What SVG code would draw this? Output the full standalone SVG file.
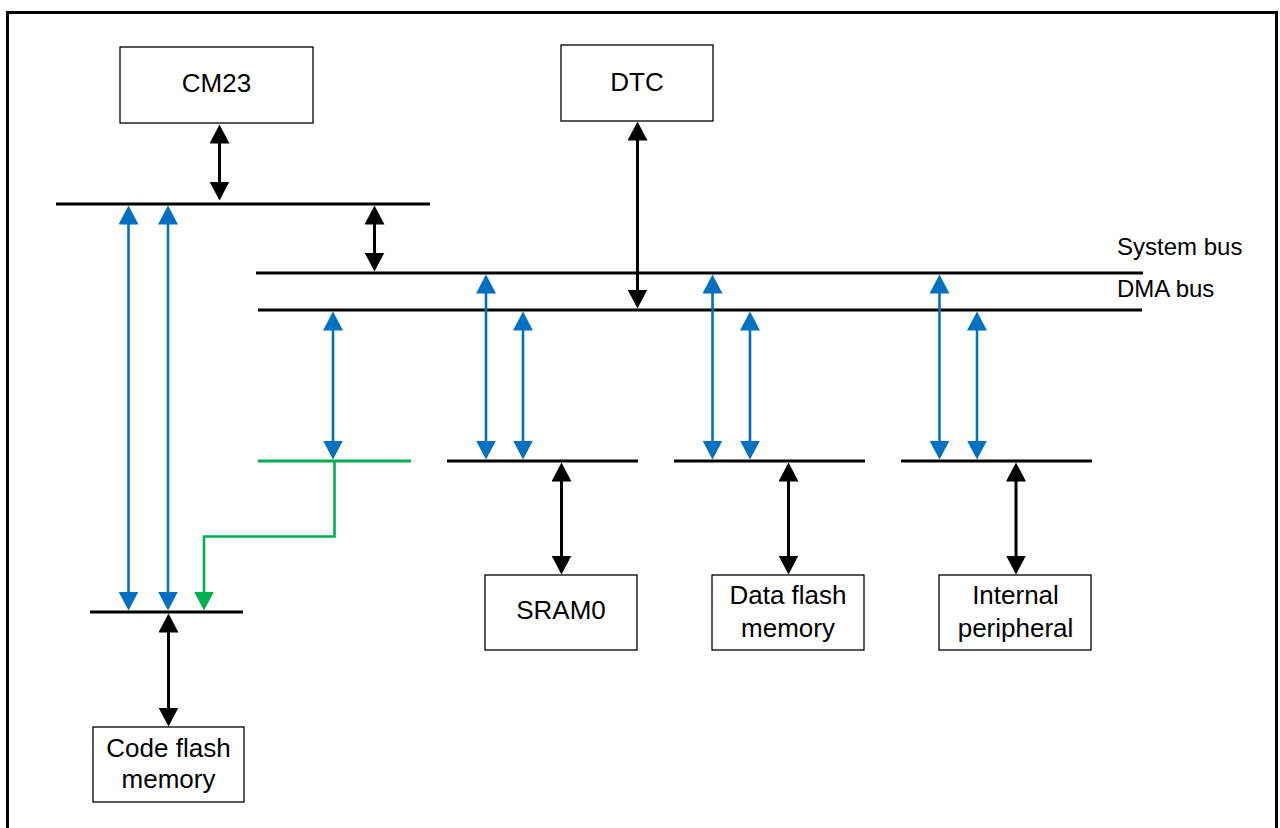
<svg xmlns="http://www.w3.org/2000/svg" width="1280" height="828" viewBox="0 0 1280 828">
<style>
.box{fill:#fff;stroke:#000;stroke-width:1.3}
.lbl{font-family:"Liberation Sans",Arial,sans-serif;font-size:26px;fill:#000;text-anchor:middle}
.bus{stroke:#000;stroke-width:3;fill:none}
.busg{stroke:#00B050;stroke-width:3;fill:none}
.blk{stroke:#000;stroke-width:3;fill:none;marker-start:url(#ak);marker-end:url(#ak)}
.blu{stroke:#0070C0;stroke-width:2.6;fill:none;marker-start:url(#ab);marker-end:url(#ab)}
.grn{stroke:#00B050;stroke-width:2.6;fill:none;marker-end:url(#ag)}
.bl{font-family:"Liberation Sans",Arial,sans-serif;font-size:24px;fill:#000}
</style>
<defs>
<marker id="ak" markerUnits="userSpaceOnUse" markerWidth="19" markerHeight="20" refX="0.5" refY="10" orient="auto-start-reverse" viewBox="0 0 19 20"><path d="M0,0 L19,10 L0,20 z" fill="#000"/></marker>
<marker id="ab" markerUnits="userSpaceOnUse" markerWidth="19" markerHeight="20" refX="0.5" refY="10" orient="auto-start-reverse" viewBox="0 0 19 20"><path d="M0,0 L19,10 L0,20 z" fill="#0070C0"/></marker>
<marker id="ag" markerUnits="userSpaceOnUse" markerWidth="19" markerHeight="20" refX="0.5" refY="10" orient="auto-start-reverse" viewBox="0 0 19 20"><path d="M0,0 L19,10 L0,20 z" fill="#00B050"/></marker>
</defs>
<rect x="0" y="0" width="1280" height="828" fill="#fff"/>
<rect x="7.5" y="12.5" width="1269" height="840" fill="none" stroke="#000" stroke-width="3"/>

<g id="buses">
<line class="bus" x1="56" y1="204" x2="430" y2="204"/>
<line class="bus" x1="256" y1="273" x2="1143" y2="273"/>
<line class="bus" x1="258" y1="310" x2="1142" y2="310"/>
<line class="busg" x1="258" y1="461" x2="411" y2="461"/>
<line class="bus" x1="447" y1="461" x2="638" y2="461"/>
<line class="bus" x1="674" y1="461" x2="865" y2="461"/>
<line class="bus" x1="901" y1="461" x2="1092" y2="461"/>
<line class="bus" x1="90" y1="612" x2="243" y2="612"/>
<text class="bl" x="1117" y="255">System bus</text>
<text class="bl" x="1117" y="297">DMA bus</text>
</g>

<g id="cm23"><rect class="box" x="120" y="47" width="193" height="76"/><text class="lbl" x="216.5" y="92">CM23</text></g>
<g id="dtc"><rect class="box" x="561" y="45" width="152" height="76"/><text class="lbl" x="637" y="91">DTC</text></g>
<g id="sram0"><rect class="box" x="485" y="575" width="152" height="75"/><text class="lbl" x="561" y="619">SRAM0</text></g>
<g id="dataflash"><rect class="box" x="712" y="575" width="152" height="75"/><text class="lbl" x="788" y="604">Data flash</text><text class="lbl" x="788" y="637">memory</text></g>
<g id="periph"><rect class="box" x="939" y="575" width="152" height="75"/><text class="lbl" x="1015.5" y="604">Internal</text><text class="lbl" x="1015.5" y="637">peripheral</text></g>
<g id="codeflash"><rect class="box" x="93" y="727" width="151" height="75"/><text class="lbl" x="168.5" y="757">Code flash</text><text class="lbl" x="168.5" y="788">memory</text></g>

<g id="connectors">
<line class="blk" x1="219.5" y1="143" x2="219.5" y2="182"/>
<line class="blk" x1="374.5" y1="224" x2="374.5" y2="253"/>
<line class="blk" x1="637.5" y1="140" x2="637.5" y2="290"/>
<line class="blk" x1="561.5" y1="481" x2="561.5" y2="556"/>
<line class="blk" x1="788.5" y1="481" x2="788.5" y2="556"/>
<line class="blk" x1="1016" y1="481" x2="1016" y2="556"/>
<line class="blk" x1="168.5" y1="632" x2="168.5" y2="708"/>

<line class="blu" x1="128.5" y1="224" x2="128.5" y2="592"/>
<line class="blu" x1="168" y1="224" x2="168" y2="592"/>
<line class="blu" x1="333" y1="330" x2="333" y2="441"/>
<line class="blu" x1="486" y1="293" x2="486" y2="441"/>
<line class="blu" x1="523" y1="330" x2="523" y2="441"/>
<line class="blu" x1="712.5" y1="293" x2="712.5" y2="441"/>
<line class="blu" x1="750" y1="330" x2="750" y2="441"/>
<line class="blu" x1="939.5" y1="293" x2="939.5" y2="441"/>
<line class="blu" x1="977" y1="330" x2="977" y2="441"/>

<path class="grn" d="M334.5,461 V536.5 H204 V592"/>
</g>
</svg>
